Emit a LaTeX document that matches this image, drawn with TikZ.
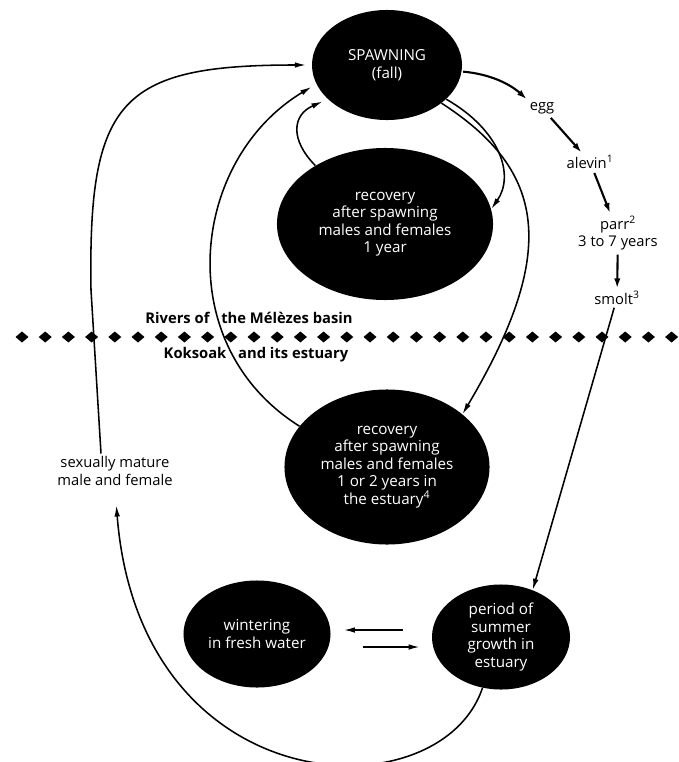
\documentclass[tikz,border=0pt]{standalone}
\usepackage{fontspec}
\setmainfont{Open Sans}
\usetikzlibrary{shapes.geometric, arrows.meta, calc}
\tikzstyle{stage} = [ellipse, fill=black, text=white, inner sep=0pt, align=center, font=\fontsize{10.8}{12.4}\selectfont]
\tikzstyle{tag} = [align=center, inner sep=2pt, font=\fontsize{10.5}{12.4}\selectfont]
\tikzstyle{zone} = [inner sep=1pt, font=\bfseries\fontsize{10.5}{12.4}\selectfont]
\tikzstyle{arrow} = [line width=1.1pt, -{Latex[length=8pt,width=4pt]}]
\tikzstyle{hop} = [line width=1.5pt, -{Latex[length=7pt,width=4.5pt]}, shorten <=1pt]
\tikzstyle{gap} = [shorten >=4pt]

\begin{document}
\begin{tikzpicture}[x=0.025cm, y=-0.025cm]
\useasboundingbox (0,0) rectangle (678,762);

% stages of the cycle
\node (spawn) [stage, minimum width=3.75cm, minimum height=2.75cm] at (387,65) {SPAWNING\\(fall)};
\node (rec1) [stage, minimum width=5.4cm, minimum height=3.8cm] at (385,224) {recovery\\after spawning\\males and females\\1 year};
\node (rec2) [stage, minimum width=5.125cm, minimum height=3.875cm] at (387,467) {recovery\\after spawning\\males and females\\1 or 2 years in\\the estuary\textsuperscript{4}};
\node (winter) [stage, minimum width=3.675cm, minimum height=2.675cm] at (257,634) {wintering\\in fresh water};
\node (summer) [stage, minimum width=3.45cm, minimum height=2.625cm] at (501,637) {period of\\summer\\growth in\\estuary};

% young stages
\node (egg) [tag] at (542,108) {egg};
\node (alevin) [tag] at (590,162) {alevin\textsuperscript{1}};
\node (parr) [tag] at (618,233) {parr\textsuperscript{2}\\3 to 7 years};
\node (smolt) [tag] at (617,298) {smolt\textsuperscript{3}};
\node (mature) [tag] at (115,471) {sexually mature\\male and female};

% boundary between rivers and estuary
\node (rivers) [zone] at (249,318) {Rivers of\hspace{0.8em}the Mélèzes basin};
\node (koksoak) [zone] at (256,355) {Koksoak\hspace{0.8em}and its estuary};
\foreach \i in {0,...,28}
  \fill (22+\i*23.2,337) +(-6.5,0) -- +(0,-5.5) -- +(6.5,0) -- +(0,5.5) -- cycle;

% right side
\draw [hop] (spawn.-5) .. controls (490,74) and (510,84) .. (egg.north west);
\draw [hop] (egg) -- (alevin);
\draw [hop] (alevin) -- (parr);
\draw [hop] (parr) -- (smolt);
\draw [arrow] (smolt) -- (summer.56);
\draw [arrow] (spawn.-30) .. controls (500,130) and (515,175) .. (rec1.8);
\draw [arrow] (spawn.-35) .. controls (545,170) and (560,250) .. (rec2.35);

% back to spawning
\draw [arrow, gap] (rec1.140) .. controls (290,140) and (292,115) .. (spawn.210);
\draw [arrow, gap] (rec2.155) .. controls (170,345) and (190,160) .. (spawn.195);
\draw [arrow, gap] ($(mature.north)+(-14,0)$) -- (91,290) .. controls (88,100) and (120,65) .. (spawn.west);
\draw [arrow, shorten >=12pt] (summer.250) .. controls (440,815) and (140,805) .. (mature.south);

% estuary and fresh water
\draw [arrow, shorten <=20.6pt, shorten >=9.2pt] ($(summer.west)+(0,-7)$) -- ($(winter.east |- summer.west)+(0,-7)$);
\draw [arrow, shorten <=22.7pt, shorten >=8.5pt] ($(winter.east |- summer.west)+(0,10)$) -- ($(summer.west)+(0,10)$);

\end{tikzpicture}
\end{document}
